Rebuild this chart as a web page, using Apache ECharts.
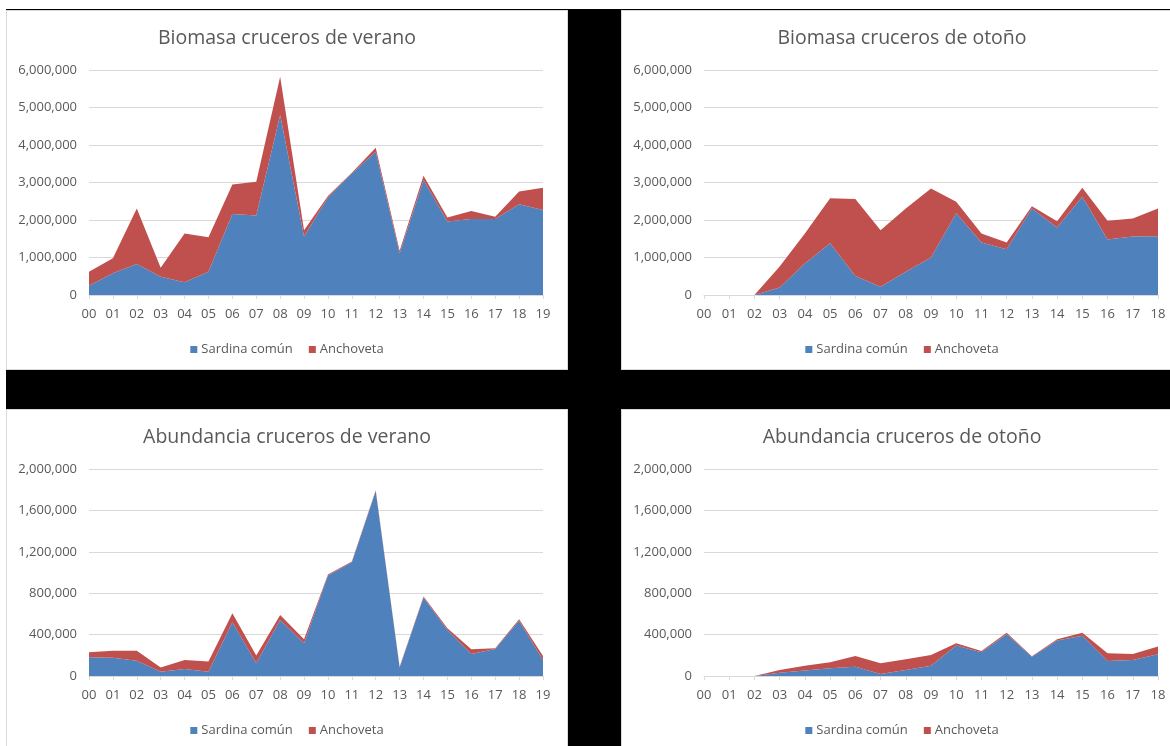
<!DOCTYPE html>
<html>
<head>
<meta charset="utf-8">
<script src="https://cdn.jsdelivr.net/npm/echarts@6/dist/echarts.min.js"></script>
<style>
  html, body { margin: 0; padding: 0; background: #ffffff; width: 1170px; height: 746px; overflow: hidden; }
  #frame { position: absolute; left: 6px; top: 9px; width: 1164px; height: 737px; background: #000000; }
  .panel { position: absolute; background: #ffffff; box-sizing: border-box; border: 1px solid #d9d9d9; }
</style>
</head>
<body>
<div id="frame"></div>
<div class="panel" id="p1" style="left:6px;top:10px;width:562px;height:360px;"></div>
<div class="panel" id="p2" style="left:621px;top:10px;width:562px;height:360px;"></div>
<div class="panel" id="p3" style="left:6px;top:409px;width:562px;height:345px;"></div>
<div class="panel" id="p4" style="left:621px;top:409px;width:562px;height:345px;"></div>
<script>
// Cruise years (two-digit labels)
const yearsSummer = ['00','01','02','03','04','05','06','07','08','09','10','11','12','13','14','15','16','17','18','19'];
const yearsAutumn = ['00','01','02','03','04','05','06','07','08','09','10','11','12','13','14','15','16','17','18'];

// Biomass, summer cruises (t)
const bioSummerSardina   = [250000, 580000, 830000, 490000, 340000, 620000, 2160000, 2120000, 4800000, 1560000, 2600000, 3240000, 3820000, 1110000, 3070000, 1960000, 2030000, 2030000, 2420000, 2270000];
const bioSummerAnchoveta = [370000, 400000, 1480000, 240000, 1300000, 920000, 790000, 900000, 1020000, 170000, 40000, 20000, 110000, 70000, 110000, 110000, 210000, 60000, 340000, 590000];

// Biomass, autumn cruises (t); no cruise in 00 and 01
const bioAutumnSardina   = [null, null, 0, 200000, 840000, 1380000, 510000, 220000, 620000, 1000000, 2180000, 1400000, 1220000, 2310000, 1800000, 2620000, 1480000, 1560000, 1570000];
const bioAutumnAnchoveta = [null, null, 0, 560000, 800000, 1200000, 2050000, 1510000, 1690000, 1840000, 310000, 240000, 180000, 60000, 170000, 240000, 500000, 480000, 740000];

// Abundance, summer cruises
const abuSummerSardina   = [180000, 177000, 148000, 42000, 68000, 42000, 519000, 123000, 542000, 316000, 971000, 1100000, 1784000, 81000, 758000, 445000, 213000, 261000, 535000, 155000];
const abuSummerAnchoveta = [49000, 68000, 97000, 39000, 87000, 97000, 87000, 74000, 48000, 39000, 9000, 6000, 10000, 9000, 10000, 16000, 45000, 7000, 13000, 39000];

// Abundance, autumn cruises
const abuAutumnSardina   = [null, null, 0, 32000, 52000, 74000, 90000, 19000, 58000, 100000, 294000, 229000, 403000, 187000, 342000, 390000, 145000, 155000, 210000];
const abuAutumnAnchoveta = [null, null, 0, 26000, 48000, 58000, 104000, 104000, 103000, 103000, 22000, 13000, 16000, 3000, 13000, 29000, 74000, 58000, 74000];

const seriesNames = ['Sardina común', 'Anchoveta'];
const colors = ['#4f81bd', '#c0504d'];
const FONT = '"Open Sans", sans-serif';
const TEXT = '#595959';

function fmt(v) {
  return v.toLocaleString('en-US');
}

function makeChart(id, title, years, sardina, anchoveta, yMax, yStep, plotHeight) {
  const el = document.getElementById(id);
  const chart = echarts.init(el, null, { renderer: 'canvas' });
  const stackSeries = (name, data, color) => ({
    name: name,
    type: 'line',
    stack: 'total',
    data: data,
    symbol: 'none',
    lineStyle: { width: 0 },
    areaStyle: { color: color, opacity: 1 },
    itemStyle: { color: color },
    silent: true,
    animation: false
  });
  chart.setOption({
    animation: false,
    textStyle: { fontFamily: FONT },
    title: {
      text: title,
      left: 'center',
      top: 17,
      padding: 0,
      textStyle: { fontFamily: FONT, fontSize: 19.5, fontWeight: 'normal', color: TEXT }
    },
    legend: {
      data: seriesNames.map((n, i) => ({ name: n, icon: 'rect', itemStyle: { color: colors[i] } })),
      left: 'center',
      top: 60 + plotHeight + 42,
      itemWidth: 7,
      itemHeight: 7,
      itemGap: 16,
      textStyle: { fontFamily: FONT, fontSize: 13, color: TEXT, padding: [0, 0, 0, -1] }
    },
    grid: { left: 82, right: 24, top: 59, height: plotHeight, containLabel: false },
    xAxis: {
      type: 'category',
      data: years,
      boundaryGap: false,
      axisLine: { lineStyle: { color: '#d9d9d9', width: 1 } },
      axisTick: { show: true, length: 4, alignWithLabel: true, lineStyle: { color: '#d9d9d9' } },
      axisLabel: { color: TEXT, fontFamily: FONT, fontSize: 13, margin: 13, interval: 0 },
      splitLine: { show: false }
    },
    yAxis: {
      type: 'value',
      min: 0,
      max: yMax,
      interval: yStep,
      axisLine: { show: false },
      axisTick: { show: false },
      axisLabel: { color: TEXT, fontFamily: FONT, fontSize: 13, margin: 12, formatter: fmt },
      splitLine: { lineStyle: { color: '#d9d9d9', width: 1 } }
    },
    series: [
      stackSeries(seriesNames[0], sardina, colors[0]),
      stackSeries(seriesNames[1], anchoveta, colors[1])
    ]
  });
}

makeChart('p1', 'Biomasa cruceros de verano', yearsSummer, bioSummerSardina, bioSummerAnchoveta, 6000000, 1000000, 225);
makeChart('p2', 'Biomasa cruceros de otoño', yearsAutumn, bioAutumnSardina, bioAutumnAnchoveta, 6000000, 1000000, 225);
makeChart('p3', 'Abundancia cruceros de verano', yearsSummer, abuSummerSardina, abuSummerAnchoveta, 2000000, 400000, 207);
makeChart('p4', 'Abundancia cruceros de otoño', yearsAutumn, abuAutumnSardina, abuAutumnAnchoveta, 2000000, 400000, 207);
</script>
</body>
</html>
